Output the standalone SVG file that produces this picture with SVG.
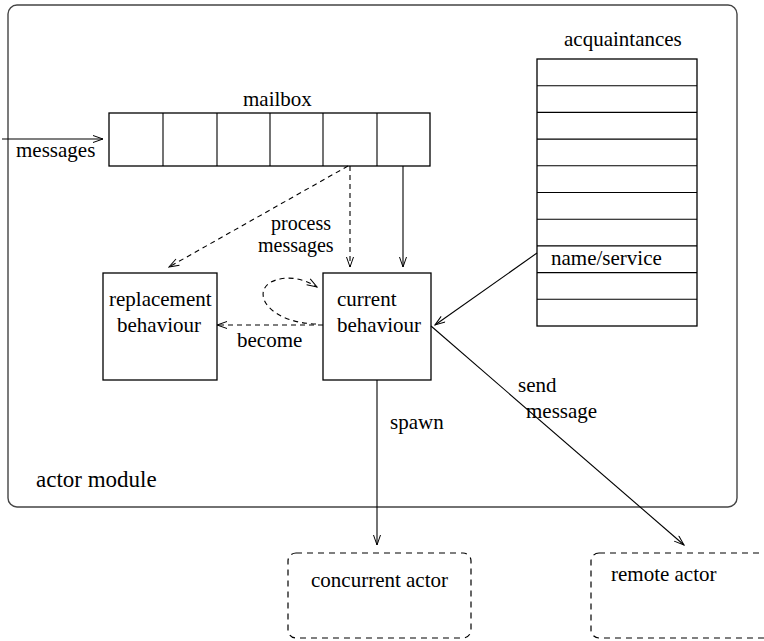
<svg xmlns="http://www.w3.org/2000/svg" width="764" height="641" viewBox="0 0 764 641">
  <defs>
    <marker id="arrow" markerUnits="userSpaceOnUse" markerWidth="12" markerHeight="10" refX="11" refY="4" orient="auto">
      <path d="M1,0.5 L11,4 L1,7.5" fill="none" stroke="#000" stroke-width="1"/>
    </marker>
    <style>
      text { font-family: "Liberation Serif", "DejaVu Serif", serif; font-size: 21px; fill: #000; }
      .box { fill: none; stroke: #000; stroke-width: 1.3; }
      .line { fill: none; stroke: #000; stroke-width: 1.1; }
      .dash { fill: none; stroke: #000; stroke-width: 1.1; stroke-dasharray: 5 4; }
      .ext { fill: none; stroke: #000; stroke-width: 1.2; stroke-dasharray: 6 5; }
    </style>
  </defs>

  <rect width="764" height="641" fill="#fff"/>

  <g font-family="Liberation Serif, DejaVu Serif, serif" font-size="21">

  <!-- outer module boundary -->
  <g id="actor-module">
    <rect x="8" y="5" width="729" height="502" rx="9" ry="9" fill="none" stroke="#444" stroke-width="1.4"/>
    <text x="36" y="487" style="font-size:23px">actor module</text>
  </g>

  <!-- mailbox queue -->
  <g id="mailbox">
    <text x="243" y="106">mailbox</text>
    <rect class="box" x="109" y="113" width="321" height="53"/>
    <path class="line" d="M163,113 V166 M217,113 V166 M270,113 V166 M323,113 V166 M377,113 V166"/>
  </g>

  <!-- acquaintance list -->
  <g id="acquaintances">
    <text x="564" y="46">acquaintances</text>
    <rect class="box" x="537" y="59" width="160" height="267"/>
    <path class="line" d="M537,85.7 H697 M537,112.4 H697 M537,139.1 H697 M537,165.8 H697 M537,192.5 H697 M537,219.2 H697 M537,245.9 H697 M537,272.6 H697 M537,299.3 H697"/>
    <text x="551" y="265">name/service</text>
  </g>

  <g id="replacement-behaviour">
    <rect class="box" x="103" y="273" width="114" height="107"/>
    <text x="109" y="306">replacement</text>
    <text x="117" y="332">behaviour</text>
  </g>

  <g id="current-behaviour">
    <rect class="box" x="323" y="273" width="108" height="107"/>
    <text x="337" y="306">current</text>
    <text x="337" y="332">behaviour</text>
  </g>

  <g id="concurrent-actor">
    <rect class="ext" x="288" y="553" width="183" height="85" rx="8" ry="8"/>
    <text x="311" y="587">concurrent actor</text>
  </g>

  <g id="remote-actor">
    <rect class="ext" x="591" y="553" width="200" height="85" rx="8" ry="8"/>
    <text x="611" y="581">remote actor</text>
  </g>

  <!-- connectors -->
  <g id="connectors">
    <path class="line" d="M2,139 H103" marker-end="url(#arrow)"/>
    <path class="dash" d="M350,166 V267" marker-end="url(#arrow)"/>
    <path class="dash" d="M348,166 L169,267" marker-end="url(#arrow)"/>
    <path class="line" d="M403,166 V267" marker-end="url(#arrow)"/>
    <path class="dash" d="M323,325 H217" marker-end="url(#arrow)"/>
    <path class="dash" d="M316,324 C262,322 248,285 280,279 C294,276 307,281 317,287" marker-end="url(#arrow)"/>
    <path class="line" d="M537,253 L435,325" marker-end="url(#arrow)"/>
    <path class="line" d="M377,380 V545" marker-end="url(#arrow)"/>
    <path class="line" d="M431,326 L684,545" marker-end="url(#arrow)"/>
  </g>

  <!-- connector labels -->
  <g id="labels">
    <text x="16" y="157">messages</text>
    <text x="271" y="230" style="font-size:20px">process</text>
    <text x="258" y="252" style="font-size:20px">messages</text>
    <text x="237" y="347">become</text>
    <text x="390" y="429">spawn</text>
    <text x="518" y="392">send</text>
    <text x="526" y="418">message</text>
  </g>

  </g>
</svg>
